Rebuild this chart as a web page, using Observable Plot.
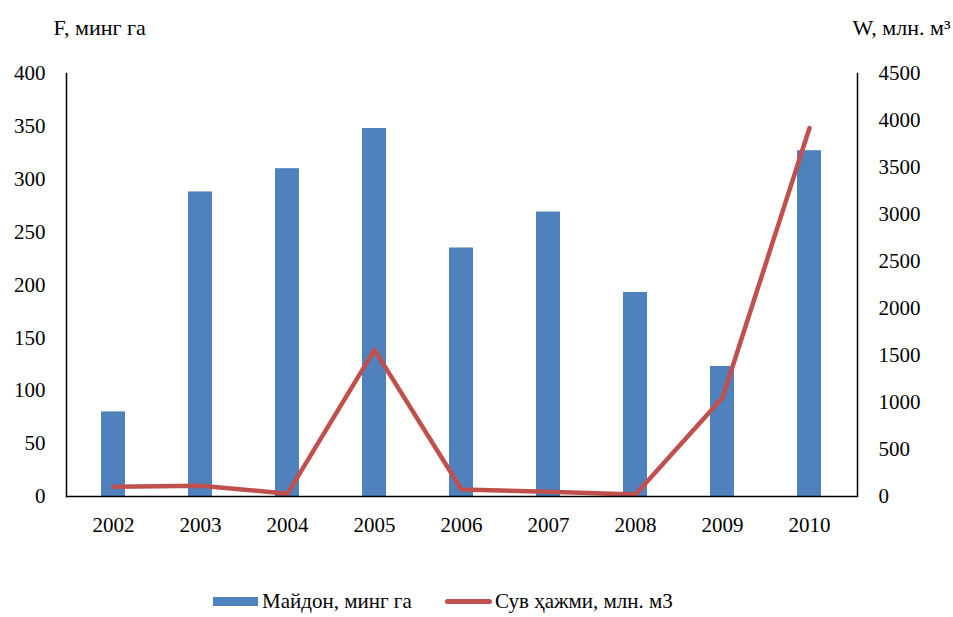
<!DOCTYPE html>
<html><head><meta charset="utf-8">
<script src="https://cdn.jsdelivr.net/npm/d3@7"></script>
<script src="https://cdn.jsdelivr.net/npm/@observablehq/plot@0.6"></script>
<style>
body{margin:0;background:#fff;font-family:"Liberation Serif","Times New Roman",Tinos,"DejaVu Serif",serif;}
#wrap{position:relative;width:953px;}
#legend{position:relative;height:32px;font-size:21px;color:#000;}
.item{position:absolute;top:0;height:32px;display:flex;align-items:center;}
.sw-bar{width:45px;height:9px;background:#4F81BD;margin-right:4px;}
.sw-line{width:47px;height:5px;background:#C0504D;border-radius:3px;margin-right:3px;}
</style>
</head><body>
<div id="wrap">
<div id="chart"></div>
<div id="legend">
  <div class="item" style="left:213px"><div class="sw-bar"></div><span id="l1"></span></div>
  <div class="item" style="left:445px"><div class="sw-line"></div><span id="l2"></span></div>
</div>
</div>
<script>
const years = ["2002","2003","2004","2005","2006","2007","2008","2009","2010"];
const area = [80, 288, 310, 348, 235, 269, 193, 123, 327];
const water = [105, 115, 30, 1560, 75, 50, 20, 1050, 3920];
const leftTicks = [0, 50, 100, 150, 200, 250, 300, 350, 400];
const rightTicks = [0, 500, 1000, 1500, 2000, 2500, 3000, 3500, 4000, 4500];
const seriesNames = ["Майдон, минг га", "Сув ҳажми, млн. м3"];
const leftTitle = "F, минг га";
const rightTitle = "W, млн. м³";

const rows = years.map((y, i) => ({year: y, area: area[i], water: water[i]}));
const y2 = d3.scaleLinear().domain([0, 4500]).range([0, 400]);
const FONT = "'Liberation Serif', 'Times New Roman', Tinos, 'DejaVu Serif', serif";

const marks = [
  Plot.barY(rows, {x: "year", y: "area", fill: "#4F81BD"}),
  Plot.lineY(rows, {x: "year", y: d => y2(d.water), stroke: "#C0504D", strokeWidth: 4.5, strokeLinejoin: "round", strokeLinecap: "round"}),
  Plot.ruleY([0], {stroke: "#000", strokeWidth: 1.5}),
  Plot.axisX({tickSize: 0, tickPadding: 21, label: null}),
  Plot.axisY(leftTicks, {tickSize: 0, tickPadding: 21, label: null}),
  Plot.axisY(rightTicks, {anchor: "right", y: d => y2(d), tickSize: 0, tickPadding: 21, label: null, tickFormat: d => String(d)}),
  Plot.text([leftTitle], {frameAnchor: "top-left", dx: -13, dy: -46, textAnchor: "start", lineAnchor: "middle", fontSize: 22}),
  Plot.text([rightTitle], {frameAnchor: "top-right", dx: 93, dy: -46, textAnchor: "end", lineAnchor: "middle", fontSize: 22})
];
let frames;
try {
  frames = [Plot.frame({anchor: "left", stroke: "#000", strokeWidth: 1.5}), Plot.frame({anchor: "right", stroke: "#000", strokeWidth: 1.5})];
} catch (e) { frames = []; }

const chart = Plot.plot({
  width: 953, height: 585,
  marginLeft: 66, marginRight: 96, marginTop: 73, marginBottom: 89,
  style: {fontFamily: FONT, fontSize: "21px", color: "#000", background: "#fff"},
  x: {type: "band", domain: years, paddingInner: 0.72, paddingOuter: 0.36},
  y: {domain: [0, 400]},
  marks: [...marks, ...frames]
});
document.getElementById("chart").appendChild(chart);
document.getElementById("l1").textContent = seriesNames[0];
document.getElementById("l2").textContent = seriesNames[1];
</script>
</body></html>
